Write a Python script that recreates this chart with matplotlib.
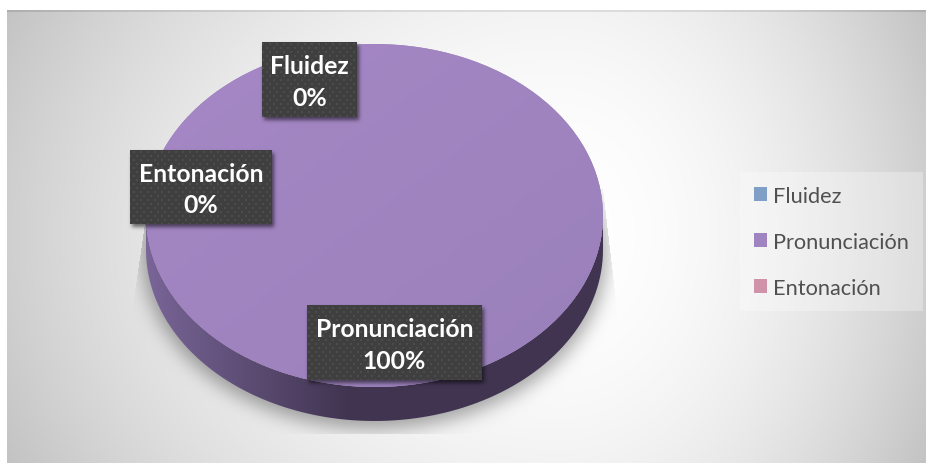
import numpy as np
import matplotlib
matplotlib.use("Agg")
import matplotlib.pyplot as plt
from matplotlib.path import Path
from matplotlib.patches import PathPatch

# datos del grafico
categorias = ['Fluidez', 'Pronunciación', 'Entonación']
valores = [0, 100, 0]
colores = ['#7F9FC6', '#9F84BF', '#CF92A9']

W, H = 926, 464

# geometria en pixeles
cx, cy, rx, ry = 374.5, 216.5, 228.5, 171.5
prof = 34
cajas = {'Fluidez': (262, 43, 357, 118),
         'Entonación': (130, 151, 272, 225),
         'Pronunciación': (307, 306, 482, 381)}


def blur(a, s):
    x = np.arange(-3 * s, 3 * s + 1)
    k = np.exp(-x**2 / (2.0 * s**2))
    k = k / k.sum()
    a = np.apply_along_axis(lambda m: np.convolve(m, k, mode='same'), 0, a)
    a = np.apply_along_axis(lambda m: np.convolve(m, k, mode='same'), 1, a)
    return a


yy, xx = np.mgrid[0:H, 0:W]
xp = xx + 0.5
yp = yy + 0.5

# fondo con degradado radial
dx = xp - 560.0
u = np.where(dx < 0, dx / 553.0, dx / 366.0)
v = (yp - 235.0) / 226.0 * 0.5
fondo = 255 - 48 * (u**2 + v**2)
fondo = np.clip(fondo, 0, 255)
fondo[:, :7] = 255
fondo[:11, :] = 255
fondo[11:13, 7:] = fondo[11:13, 7:] - 22
img = np.dstack([fondo, fondo, fondo]) / 255.0

# sombra de la tarta
elipse = (((xp - cx) / (rx + 4))**2 + ((yp - (cy + prof + 4)) / (ry + 4))**2) <= 1
sombra = blur(elipse.astype(float), 9) * 0.34
izq = 145 - (yp - 225) * 14.0 / 95.0
izq = np.where(yp > 320, 131, izq)
der = 603 + (yp - 190) * 14.0 / 120.0
der = np.where(yp > 310, 617, der)
recorte = (xp >= izq) & (xp <= der) & (yp <= 435) & (yp >= 190)
sombra = sombra * recorte
img = img * (1 - sombra[..., None])

fig = plt.figure(figsize=(W / 100, H / 100), dpi=100, facecolor='white')
plt.rcParams['font.family'] = ['Lato', 'DejaVu Sans']

ax = fig.add_axes([0, 0, 1, 1], zorder=1)
ax.imshow(img, extent=(0, W, H, 0), aspect='auto', interpolation='nearest')

# lateral de la tarta
t = np.linspace(0, np.pi, 200)
xs = cx + rx * np.cos(t)
ys = cy + ry * np.sin(t)
verts = list(zip(xs, ys + prof)) + list(zip(xs[::-1], ys[::-1]))
lateral = Path(verts + [verts[0]])
c_izq = np.array([0x78, 0x64, 0x96]) / 255.0
c_der = np.array([0x40, 0x34, 0x50]) / 255.0
f = np.clip((xp[0] - 150) / 200.0, 0, 1)[None, :, None]
grad = c_izq * (1 - f) + c_der * f
grad = np.repeat(grad, H, axis=0)
im = ax.imshow(grad, extent=(0, W, H, 0), aspect='auto', zorder=2)
im.set_clip_path(PathPatch(lateral, transform=ax.transData))
ax.set_xlim(0, W)
ax.set_ylim(H, 0)
ax.axis('off')

# tarta
pie_ax = fig.add_axes([(cx - rx) / W, 1 - (cy + ry) / H, 2 * rx / W, 2 * ry / H], zorder=2)
wedges, _ = pie_ax.pie(valores, colors=colores, radius=1, startangle=90, counterclock=False)
pie_ax.set_aspect('auto')
pie_ax.set_xlim(-1, 1)
pie_ax.set_ylim(-1, 1)
luz = np.linspace(0, 1, 64)
gx, gy = np.meshgrid(luz, luz)
mezcla = np.clip(gx * 0.6 + gy * 0.6 - 0.1, 0, 1)[..., None]
c1 = np.array([0xA4, 0x87, 0xC4]) / 255.0
c2 = np.array([0x9B, 0x81, 0xBC]) / 255.0
im2 = pie_ax.imshow(c1 * (1 - mezcla) + c2 * mezcla, extent=(-1, 1, -1, 1), origin='upper',
                    aspect='auto', zorder=3)
im2.set_clip_path(wedges[1])
pie_ax.set_xlim(-1, 1)
pie_ax.set_ylim(-1, 1)

# capa de etiquetas
sup = fig.add_axes([0, 0, 1, 1], zorder=3)
sup.patch.set_alpha(0)
sup.set_xlim(0, W)
sup.set_ylim(H, 0)
sup.axis('off')

capa = np.zeros((H, W))
for x0, y0, x1, y1 in cajas.values():
    capa[y0 + 3:y1 + 3, x0 + 2:x1 + 2] = 1
alfa_s = blur(capa, 2) * 0.55
rgba = np.zeros((H, W, 4))
rgba[..., 3] = alfa_s
fil = yy // 4
pat = ((xx + 4 * (fil % 2)) % 7 <= 1) & (yy % 4 <= 1)
for x0, y0, x1, y1 in cajas.values():
    caja = np.where(pat[y0:y1, x0:x1], 0x4C, 0x3F) / 255.0
    rgba[y0:y1, x0:x1, 0] = caja
    rgba[y0:y1, x0:x1, 1] = caja
    rgba[y0:y1, x0:x1, 2] = caja
    rgba[y0:y1, x0:x1, 3] = 1
sup.imshow(rgba, extent=(0, W, H, 0), aspect='auto', interpolation='nearest')
sup.set_xlim(0, W)
sup.set_ylim(H, 0)

for nombre, valor in zip(categorias, valores):
    x0, y0, x1, y1 = cajas[nombre]
    sup.text((x0 + x1) / 2, (y0 + y1) / 2 + 2, f"{nombre}\n{valor}%", color='white', fontsize=17.8,
             fontweight='bold', ha='center', va='center', linespacing=1.45)

# leyenda
leg = sup.legend(wedges, categorias, loc='upper left', bbox_to_anchor=(740 / W, 1 - 173 / H),
                 bbox_transform=fig.transFigure, fontsize=15.7, frameon=True, framealpha=0.3,
                 facecolor='white', edgecolor='none', fancybox=False, handlelength=0.64,
                 handleheight=0.64, handletextpad=0.27, labelspacing=1.2, borderaxespad=0,
                 labelcolor='#505050', borderpad=0.62)

fig.savefig('out.png', dpi=100)
